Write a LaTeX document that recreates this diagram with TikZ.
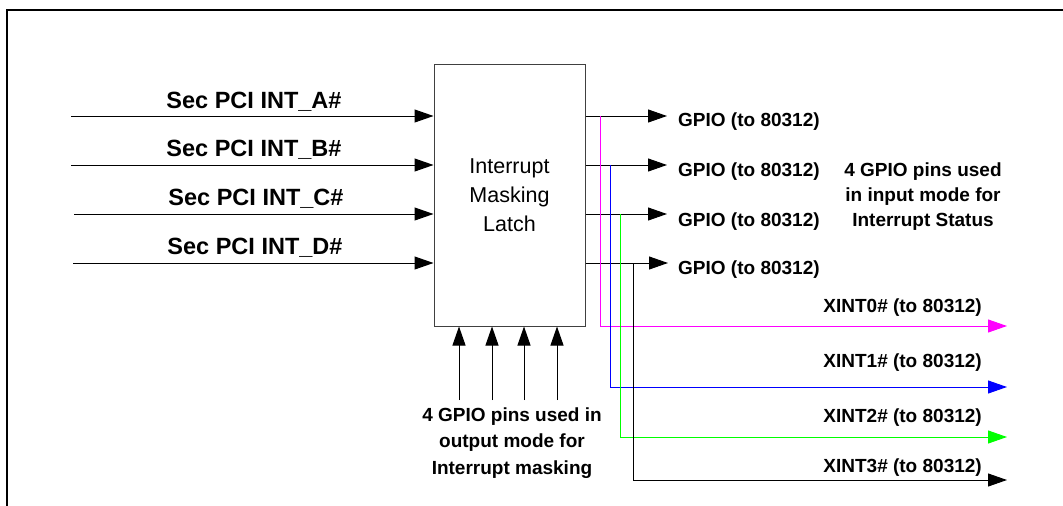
\documentclass[tikz,border=0pt]{standalone}
\usepackage{fontspec}
\setmainfont{Liberation Sans}
\usetikzlibrary{arrows.meta,positioning}
\definecolor{xmag}{RGB}{255,0,255}
\definecolor{xblue}{RGB}{0,0,255}
\definecolor{xgreen}{RGB}{0,255,0}

\begin{document}
\begin{tikzpicture}[x=1pt,y=-1pt,
	sig/.style={line width=1pt,-{Triangle[length=19pt,width=13pt]}},
	lbl/.style={font=\fontsize{19}{25}\selectfont\bfseries,inner sep=0pt},
	inlbl/.style={font=\fontsize{23.5}{28}\selectfont\bfseries,inner sep=0pt}]
			
			\useasboundingbox (0,0) rectangle (1063,506);
			\draw[line width=2pt] (7,506) -- (7,10) -- (1063,10);
			
			% latch
			\node[draw=black!75,line width=1pt,minimum width=151pt,minimum height=262pt,align=center,font=\fontsize{21.5}{29}\selectfont] (latch) at (509.5,195) {Interrupt\\Masking\\Latch};
			
			% interrupt inputs
			\coordinate (inA) at (71,116);
			\coordinate (inB) at (71,165);
			\coordinate (inC) at (74,214);
			\coordinate (inD) at (73,263);
			\draw[sig] (inA) -- (inA -| latch.west);
			\draw[sig] (inB) -- (inB -| latch.west);
			\draw[sig] (inC) -- (inC -| latch.west);
			\draw[sig] (inD) -- (inD -| latch.west);
			\node[inlbl] (labA) at (254,102) {Sec PCI INT\_A\#};
			\node[inlbl] (labB) at (254,150) {Sec PCI INT\_B\#};
			\node[inlbl] (labC) at (256,199) {Sec PCI INT\_C\#};
			\node[inlbl] (labD) at (255,248) {Sec PCI INT\_D\#};
			
			% gpio outputs
			\coordinate (outA) at (667,116);
			\coordinate (outB) at (667,165);
			\coordinate (outC) at (667,214);
			\coordinate (outD) at (668,263);
			\draw[sig] (latch.east |- outA) -- (outA);
			\draw[sig] (latch.east |- outB) -- (outB);
			\draw[sig] (latch.east |- outC) -- (outC);
			\draw[sig] (latch.east |- outD) -- (outD);
			\node[lbl,anchor=west] (gpioA) at (678,122) {GPIO (to 80312)};
			\node[lbl,anchor=west] (gpioB) at (678,172) {GPIO (to 80312)};
			\node[lbl,anchor=west] (gpioC) at (678,222) {GPIO (to 80312)};
			\node[lbl,anchor=west] (gpioD) at (678,270) {GPIO (to 80312)};
			\node[lbl,align=center] (status) at (923,197) {4 GPIO pins used\\in input mode for\\Interrupt Status};
			
			% mask inputs
			\coordinate (mA) at (459,400);
			\coordinate (mB) at (492,400);
			\coordinate (mC) at (524,400);
			\coordinate (mD) at (557,400);
			\draw[sig] (mA) -- (mA |- latch.south);
			\draw[sig] (mB) -- (mB |- latch.south);
			\draw[sig] (mC) -- (mC |- latch.south);
			\draw[sig] (mD) -- (mD |- latch.south);
			\node[lbl,align=center,font=\fontsize{19}{26.5}\selectfont\bfseries] (mask) at (512,443) {4 GPIO pins used in\\output mode for\\Interrupt masking};
			
			% xint outputs
			\coordinate (t0) at (600,116);
			\coordinate (t1) at (610,165);
			\coordinate (t2) at (620,214);
			\coordinate (t3) at (633,263);
			\coordinate (x0) at (1007,326);
			\coordinate (x1) at (1007,387);
			\coordinate (x2) at (1007,437);
			\coordinate (x3) at (1007,480);
			\draw[sig,xmag] (t0) |- (x0);
			\draw[sig,xblue] (t1) |- (x1);
			\draw[sig,xgreen] (t2) |- (x2);
			\draw[sig] (t3) |- (x3);
			\node[lbl,anchor=east] (xl0) at (982,308) {XINT0\# (to 80312)};
			\node[lbl,anchor=east] (xl1) at (982,363) {XINT1\# (to 80312)};
			\node[lbl,anchor=east] (xl2) at (982,418) {XINT2\# (to 80312)};
			\node[lbl,anchor=east] (xl3) at (982,468) {XINT3\# (to 80312)};
			
		\end{tikzpicture}
\end{document}
